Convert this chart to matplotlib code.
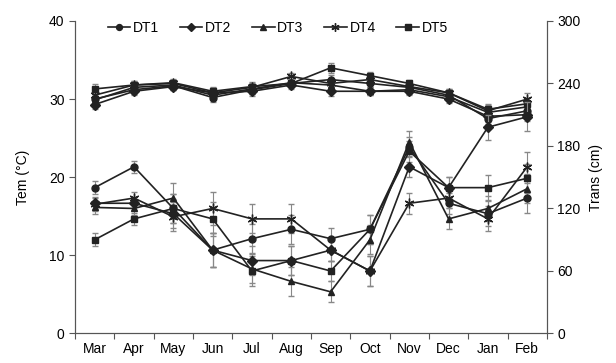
import matplotlib.pyplot as plt
from matplotlib.lines import Line2D
import numpy as np

plt.rcParams['font.family'] = ['Liberation Sans', 'DejaVu Sans']
plt.rcParams['font.size'] = 10

months = ['Mar', 'Apr', 'May', 'Jun', 'Jul', 'Aug', 'Sep', 'Oct', 'Nov', 'Dec', 'Jan', 'Feb']
names = ['DT1', 'DT2', 'DT3', 'DT4', 'DT5']
markers = ['o', 'D', '^', (6, 2, 0), 's']

# water temperature (left axis)
tem_dt1 = [30.0, 31.2, 31.7, 30.2, 31.2, 32.0, 32.5, 32.0, 31.5, 30.5, 27.5, 28.5]
tem_dt2 = [29.3, 31.0, 31.6, 30.8, 31.0, 31.8, 31.0, 31.0, 31.0, 30.0, 27.8, 28.0]
tem_dt3 = [29.9, 31.5, 31.8, 30.5, 31.3, 32.1, 31.8, 31.0, 31.2, 30.3, 28.3, 29.0]
tem_dt4 = [30.5, 31.8, 32.0, 30.8, 31.5, 32.9, 32.0, 32.5, 31.6, 30.8, 28.5, 30.0]
tem_dt5 = [31.3, 31.8, 32.1, 31.0, 31.6, 32.0, 34.0, 33.0, 32.0, 30.8, 28.7, 29.4]
tem_err = [0.6, 0.5, 0.5, 0.6, 0.6, 0.5, 0.6, 0.5, 0.5, 0.5, 0.7, 0.8]

# transparency (right axis)
tr_dt1 = [140, 160, 120, 80, 91, 100, 91, 100, 179, 125, 115, 130]
tr_dt2 = [125, 125, 115, 80, 70, 70, 80, 60, 160, 140, 198, 208]
tr_dt3 = [121, 120, 130, 80, 62, 50, 40, 90, 184, 110, 120, 139]
tr_dt4 = [124, 130, 112, 120, 110, 110, 80, 60, 125, 130, 110, 160]
tr_dt5 = [90, 110, 120, 110, 60, 70, 60, 100, 175, 140, 140, 149]
tr_err = [6, 6, 14, 16, 14, 14, 10, 14, 10, 10, 12, 14]

x = np.arange(len(months))
tem = [tem_dt1, tem_dt2, tem_dt3, tem_dt4, tem_dt5]
trans = [tr_dt1, tr_dt2, tr_dt3, tr_dt4, tr_dt5]

fig = plt.figure(figsize=(6.16, 3.63), dpi=100)
ax = fig.add_axes([0.1218, 0.0813, 0.766, 0.861])
ax2 = ax.twinx()

lc = '#222222'
handles = []
for i in range(5):
    ms = 7 if i == 3 else 5
    ax.errorbar(x, tem[i], yerr=tem_err, color=lc, ecolor='#888888', elinewidth=0.8,
                capsize=2.5, lw=1.2, marker=markers[i], ms=ms, mec=lc, mfc=lc)
    ax2.errorbar(x, trans[i], yerr=tr_err, color=lc, ecolor='#888888', elinewidth=0.8,
                 capsize=2.5, lw=1.2, marker=markers[i], ms=ms, mec=lc, mfc=lc)
    handles.append(Line2D([], [], color=lc, lw=1.2, marker=markers[i],
                          ms=ms * 0.85, mec=lc, mfc=lc, label=names[i]))

ax.set_xlim(-0.5, 11.5)
ax.set_ylim(0, 40)
ax2.set_ylim(0, 300)
ax.set_yticks([0, 10, 20, 30, 40])
ax2.set_yticks([0, 60, 120, 180, 240, 300])
ax.set_xticks(np.arange(-0.5, 12, 1))
ax.set_xticklabels([])
ax.set_xticks(x, minor=True)
ax.set_xticklabels(months, minor=True)
ax.tick_params(axis='x', which='minor', length=0, pad=6)
ax.tick_params(axis='x', which='major', length=4, color='#555555')
ax.tick_params(axis='y', length=4, color='#555555')
ax2.tick_params(axis='y', length=4, color='#555555')

for a in (ax, ax2):
    a.spines['top'].set_visible(False)
    for s in ('left', 'right', 'bottom'):
        a.spines[s].set_color('#555555')

ax.set_ylabel('Tem (°C)', labelpad=14)
ax2.set_ylabel('Trans (cm)', labelpad=6)

ax.legend(handles=handles, loc='upper center', bbox_to_anchor=(0.43, 1.04), ncol=5,
          frameon=False, handlelength=1.6, columnspacing=1.5, handletextpad=0.2)

fig.savefig('out.png', dpi=100)
